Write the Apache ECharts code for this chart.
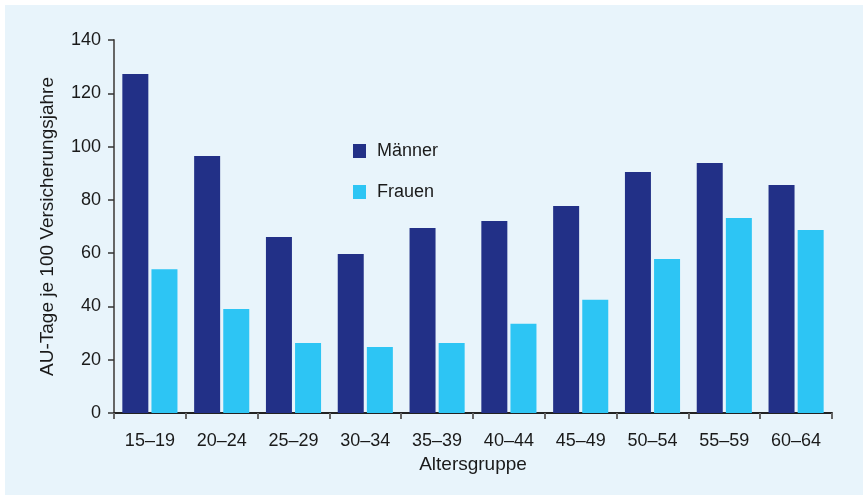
<!DOCTYPE html>
<html><head><meta charset="utf-8">
<script src="https://cdn.jsdelivr.net/npm/echarts@6/dist/echarts.min.js"></script>
<style>html,body{margin:0;padding:0;background:#fff}#c{width:863px;height:495px}</style>
</head><body><div id="c"></div>
<script>
const categories = ['15–19','20–24','25–29','30–34','35–39','40–44','45–49','50–54','55–59','60–64'];
const maenner = [127.2, 96.5, 66.1, 59.7, 69.4, 72.1, 77.7, 90.5, 93.8, 85.6];
const frauen = [54.0, 39.0, 26.3, 24.8, 26.3, 33.5, 42.5, 57.8, 73.2, 68.7];
const seriesNames = ['Männer', 'Frauen'];
const yTicks = [0, 20, 40, 60, 80, 100, 120, 140];

const chart = echarts.init(document.getElementById('c'));
const font = 'Liberation Sans, Arial, sans-serif';
chart.setOption({
  backgroundColor: '#fff',
  graphic: [{type:'rect', shape:{x:5,y:5,width:858,height:490}, style:{fill:'#e8f4fb'}, z:-10}],
  animation: false,
  grid: {left:114, right:31, top:40, bottom:82, containLabel:false},
  legend: {
    orient:'vertical', left:348, top:137, itemWidth:13, itemHeight:14, itemGap:23,
    icon:'rect',
    textStyle:{fontFamily:font, fontSize:18, color:'#1a1a1a', padding:[0,0,0,6]},
    data: seriesNames
  },
  xAxis: {
    type:'category', data:categories,
    name:'Altersgruppe', nameLocation:'middle', nameGap:39,
    nameTextStyle:{fontFamily:font, fontSize:19, color:'#1a1a1a'},
    axisLine:{lineStyle:{color:'#222', width:2}},
    axisTick:{show:true, length:6, lineStyle:{color:'#666', width:2}},
    axisLabel:{fontFamily:font, fontSize:18, color:'#1a1a1a', margin:19}
  },
  yAxis: {
    type:'value', min:0, max:140, interval:20,
    name:'AU-Tage je 100 Versicherungsjahre', nameLocation:'middle', nameGap:57,
    nameTextStyle:{fontFamily:font, fontSize:19, color:'#1a1a1a'},
    splitLine:{show:false},
    axisLine:{show:true, lineStyle:{color:'#666', width:2}},
    axisTick:{show:true, length:6, lineStyle:{color:'#333', width:1.5}},
    axisLabel:{fontFamily:font, fontSize:18, color:'#1a1a1a', margin:13,
      formatter: v => yTicks.includes(v) ? String(v) : ''}
  },
  series: [
    {name:seriesNames[0], type:'bar', data:maenner, barWidth:26, barGap:'12%', itemStyle:{color:'#223087'}},
    {name:seriesNames[1], type:'bar', data:frauen, barWidth:26, barGap:'12%', itemStyle:{color:'#2dc5f4'}}
  ]
});
</script></body></html>
